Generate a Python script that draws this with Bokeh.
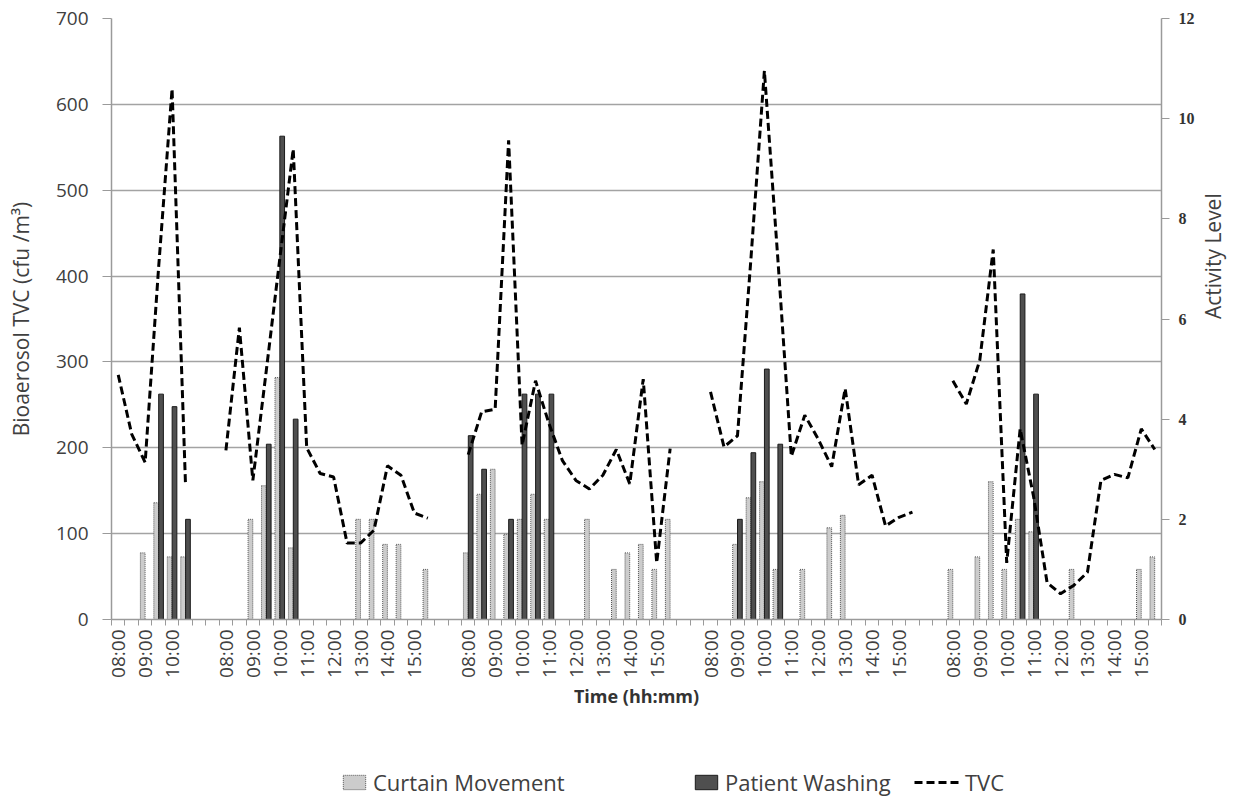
import math

from bokeh.embed import file_html
from bokeh.layouts import column
from bokeh.models import (ColumnDataSource, FixedTicker, Legend, LegendItem,
                          LinearAxis, Range1d)
from bokeh.plotting import figure
from bokeh.resources import INLINE

# Half-hour sampling slots over five monitoring days; blank slots separate days.
day_short = ["08:00", "08:30", "09:00", "09:30", "10:00", "10:30"]
day_full = ["08:00", "08:30", "09:00", "09:30", "10:00", "10:30", "11:00", "11:30",
            "12:00", "12:30", "13:00", "13:30", "14:00", "14:30", "15:00", "15:30"]
gap = ["", ""]
slot_labels = day_short + gap + day_full + gap + day_full + gap + day_full + gap + day_full

# Bioaerosol total viable count (cfu/m3); None marks the breaks between days
tvc = [
    285, 216, 183, 410, 618, 156, None, None,
    197, 340, 162, 290, 420, 548, 200, 170, 166, 89, 89, 104, 179, 168, 124, 118, None, None,
    192, 242, 245, 558, 203, 278, 228, 185, 162, 152, 168, 198, 158, 280, 66, 199, None, None,
    265, 201, 214, 420, 639, 420, 190, 238, 210, 178, 269, 157, 168, 109, 119, 125, None, None,
    278, 251, 302, 431, 66, 222, 143, 43, 30, 40, 55, 162, 169, 165, 222, 198,
]

# Activity levels per slot (0 = no activity recorded)
curtain_movement = [
    0, 0, 1.33, 2.33, 1.25, 1.25, 0, 0,
    0, 0, 2.0, 2.67, 4.83, 1.43, 0, 0, 0, 0, 2.0, 2.0, 1.5, 1.5, 0, 1.0, 0, 0,
    1.33, 2.5, 3.0, 1.7, 2.0, 2.5, 2.0, 0, 0, 2.0, 0, 1.0, 1.33, 1.5, 1.0, 2.0, 0, 0,
    0, 0, 1.5, 2.43, 2.75, 1.0, 0, 1.0, 0, 1.83, 2.08, 0, 0, 0, 0, 0, 0, 0,
    1.0, 0, 1.25, 2.75, 1.0, 2.0, 1.75, 0, 0, 1.0, 0, 0, 0, 0, 1.0, 1.25,
]
patient_washing = [
    0, 0, 0, 4.5, 4.25, 2.0, 0, 0,
    0, 0, 0, 3.5, 9.65, 4.0, 0, 0, 0, 0, 0, 0, 0, 0, 0, 0, 0, 0,
    3.67, 3.0, 0, 2.0, 4.5, 4.5, 4.5, 0, 0, 0, 0, 0, 0, 0, 0, 0, 0, 0,
    0, 0, 2.0, 3.33, 5.0, 3.5, 0, 0, 0, 0, 0, 0, 0, 0, 0, 0, 0, 0,
    0, 0, 0, 0, 0, 6.5, 4.5, 0, 0, 0, 0, 0, 0, 0, 0, 0,
]

tvc_ticks = [0, 100, 200, 300, 400, 500, 600, 700]
activity_ticks = [0, 2, 4, 6, 8, 10, 12]

n = len(slot_labels)
xs = list(range(n))

FONT = "Open Sans"
TXT = "#404040"
AXIS = "#9a9a9a"

CURTAIN_STYLE = dict(fill_color="#cccccc", line_color="#555555", line_width=1, line_dash="1 1")
WASHING_STYLE = dict(fill_color="#4f4f4f", line_color="#1a1a1a", line_width=1)
TVC_STYLE = dict(line_color="black", line_width=3, line_dash="8 4")

p = figure(width=1246, height=745, output_backend="svg", toolbar_location=None,
           x_range=Range1d(-0.5, n - 0.5), y_range=Range1d(0, 700),
           min_border_left=111, min_border_right=85, min_border_top=18,
           min_border_bottom=126)
p.extra_y_ranges = {"act": Range1d(0, 12)}
p.outline_line_color = None

# Grid: horizontal lines only, from the TVC axis
p.xgrid.visible = False
p.ygrid.grid_line_color = "#a3a3a3"
p.ygrid.grid_line_width = 1.5
p.ygrid.ticker = FixedTicker(ticks=tvc_ticks)

# Bottom axis: labels on every other slot, ticks on every slot boundary
xa = p.xaxis[0]
xa.ticker = FixedTicker(ticks=[i for i in xs if i % 2 == 0],
                        minor_ticks=[i - 0.5 for i in range(n + 1)])
xa.major_label_overrides = {i: slot_labels[i] for i in xs if i % 2 == 0}
xa.major_label_orientation = math.pi / 2
xa.major_tick_line_color = None
xa.major_tick_in = 0
xa.major_tick_out = 6
xa.minor_tick_in = 0
xa.minor_tick_out = 6
xa.minor_tick_line_color = AXIS
xa.axis_line_color = AXIS
xa.axis_line_width = 1.5
xa.major_label_text_font = FONT
xa.major_label_text_font_size = "19px"
xa.major_label_text_color = TXT
xa.major_label_standoff = 4
xa.axis_label = "Time (hh:mm)"
xa.axis_label_text_font = FONT
xa.axis_label_text_font_style = "bold"
xa.axis_label_text_font_size = "18px"
xa.axis_label_text_color = "#333333"
xa.axis_label_standoff = 3

# Left axis: TVC
ya = p.yaxis[0]
ya.ticker = FixedTicker(ticks=tvc_ticks)
ya.minor_tick_line_color = None
ya.major_tick_in = 0
ya.major_tick_out = 9
ya.major_tick_line_color = AXIS
ya.axis_line_color = AXIS
ya.axis_line_width = 1.5
ya.major_label_text_font = FONT
ya.major_label_text_font_size = "19px"
ya.major_label_text_color = TXT
ya.major_label_standoff = 14
ya.axis_label = "Bioaerosol TVC (cfu /m³)"
ya.axis_label_text_font = FONT
ya.axis_label_text_font_style = "normal"
ya.axis_label_text_font_size = "21px"
ya.axis_label_text_color = TXT
ya.axis_label_standoff = 18

# Right axis: activity level, title reading bottom to top
ra = LinearAxis(y_range_name="act", ticker=FixedTicker(ticks=activity_ticks))
ra.minor_tick_line_color = None
ra.major_tick_in = 0
ra.major_tick_out = 8
ra.major_tick_line_color = AXIS
ra.axis_line_color = AXIS
ra.axis_line_width = 1.5
ra.major_label_text_font = "Liberation Serif"
ra.major_label_text_font_style = "bold"
ra.major_label_text_font_size = "16px"
ra.major_label_text_color = "#333333"
ra.major_label_standoff = 9
ra.axis_label = "Activity Level"
ra.axis_label_orientation = math.pi / 2
ra.axis_label_text_font = FONT
ra.axis_label_text_font_style = "normal"
ra.axis_label_text_font_size = "21px"
ra.axis_label_text_color = TXT
ra.axis_label_standoff = 15
p.add_layout(ra, "right")

# Activity bars (clustered within each slot)
bar_w = 0.35
cm = [(x, v) for x, v in zip(xs, curtain_movement) if v > 0]
pw = [(x, v) for x, v in zip(xs, patient_washing) if v > 0]
src_c = ColumnDataSource(dict(x=[x - 0.18 for x, _ in cm], top=[v for _, v in cm]))
src_w = ColumnDataSource(dict(x=[x + 0.18 for x, _ in pw], top=[v for _, v in pw]))
src_t = ColumnDataSource(dict(x=xs, y=[float("nan") if v is None else v for v in tvc]))

p.vbar(x="x", top="top", bottom=0, width=bar_w, source=src_c, y_range_name="act",
       **CURTAIN_STYLE)
p.vbar(x="x", top="top", bottom=0, width=bar_w, source=src_w, y_range_name="act",
       **WASHING_STYLE)

# TVC line, broken between days
p.line(x="x", y="y", source=src_t, **TVC_STYLE)

# Legend strip under the chart; its key renderers hold no drawable values,
# so only the legend entries themselves appear.
leg = figure(width=1246, height=55, output_backend="svg", toolbar_location=None,
             x_range=Range1d(0, 1), y_range=Range1d(0, 1), min_border=0,
             x_axis_location=None, y_axis_location=None)
leg.grid.visible = False
leg.outline_line_color = None
nan = float("nan")
k_c = leg.vbar(x=[nan], top=[nan], bottom=0, width=bar_w, **CURTAIN_STYLE)
k_w = leg.vbar(x=[nan], top=[nan], bottom=0, width=bar_w, **WASHING_STYLE)
k_t = leg.line(x=[nan], y=[nan], **TVC_STYLE)


def add_legend(item_label, renderer, loc, glyph_w):
    lg = Legend(items=[LegendItem(label=item_label, renderers=[renderer])],
                location=loc, orientation="horizontal", padding=0, margin=0,
                border_line_color=None, background_fill_alpha=0,
                glyph_width=glyph_w, glyph_height=18, label_standoff=5,
                label_text_font=FONT, label_text_font_size="22px",
                label_text_color=TXT)
    leg.add_layout(lg, "center")


# the strip's frame lines up with the chart frame (left edge at 111 px)
add_legend("Curtain Movement", k_c, (229, 3), 28)
add_legend("Patient Washing", k_w, (581, 3), 28)
add_legend("TVC", k_t, (803, 3), 46)

layout = column(p, leg, spacing=0)
open("out.html", "w").write(file_html(layout, INLINE))
